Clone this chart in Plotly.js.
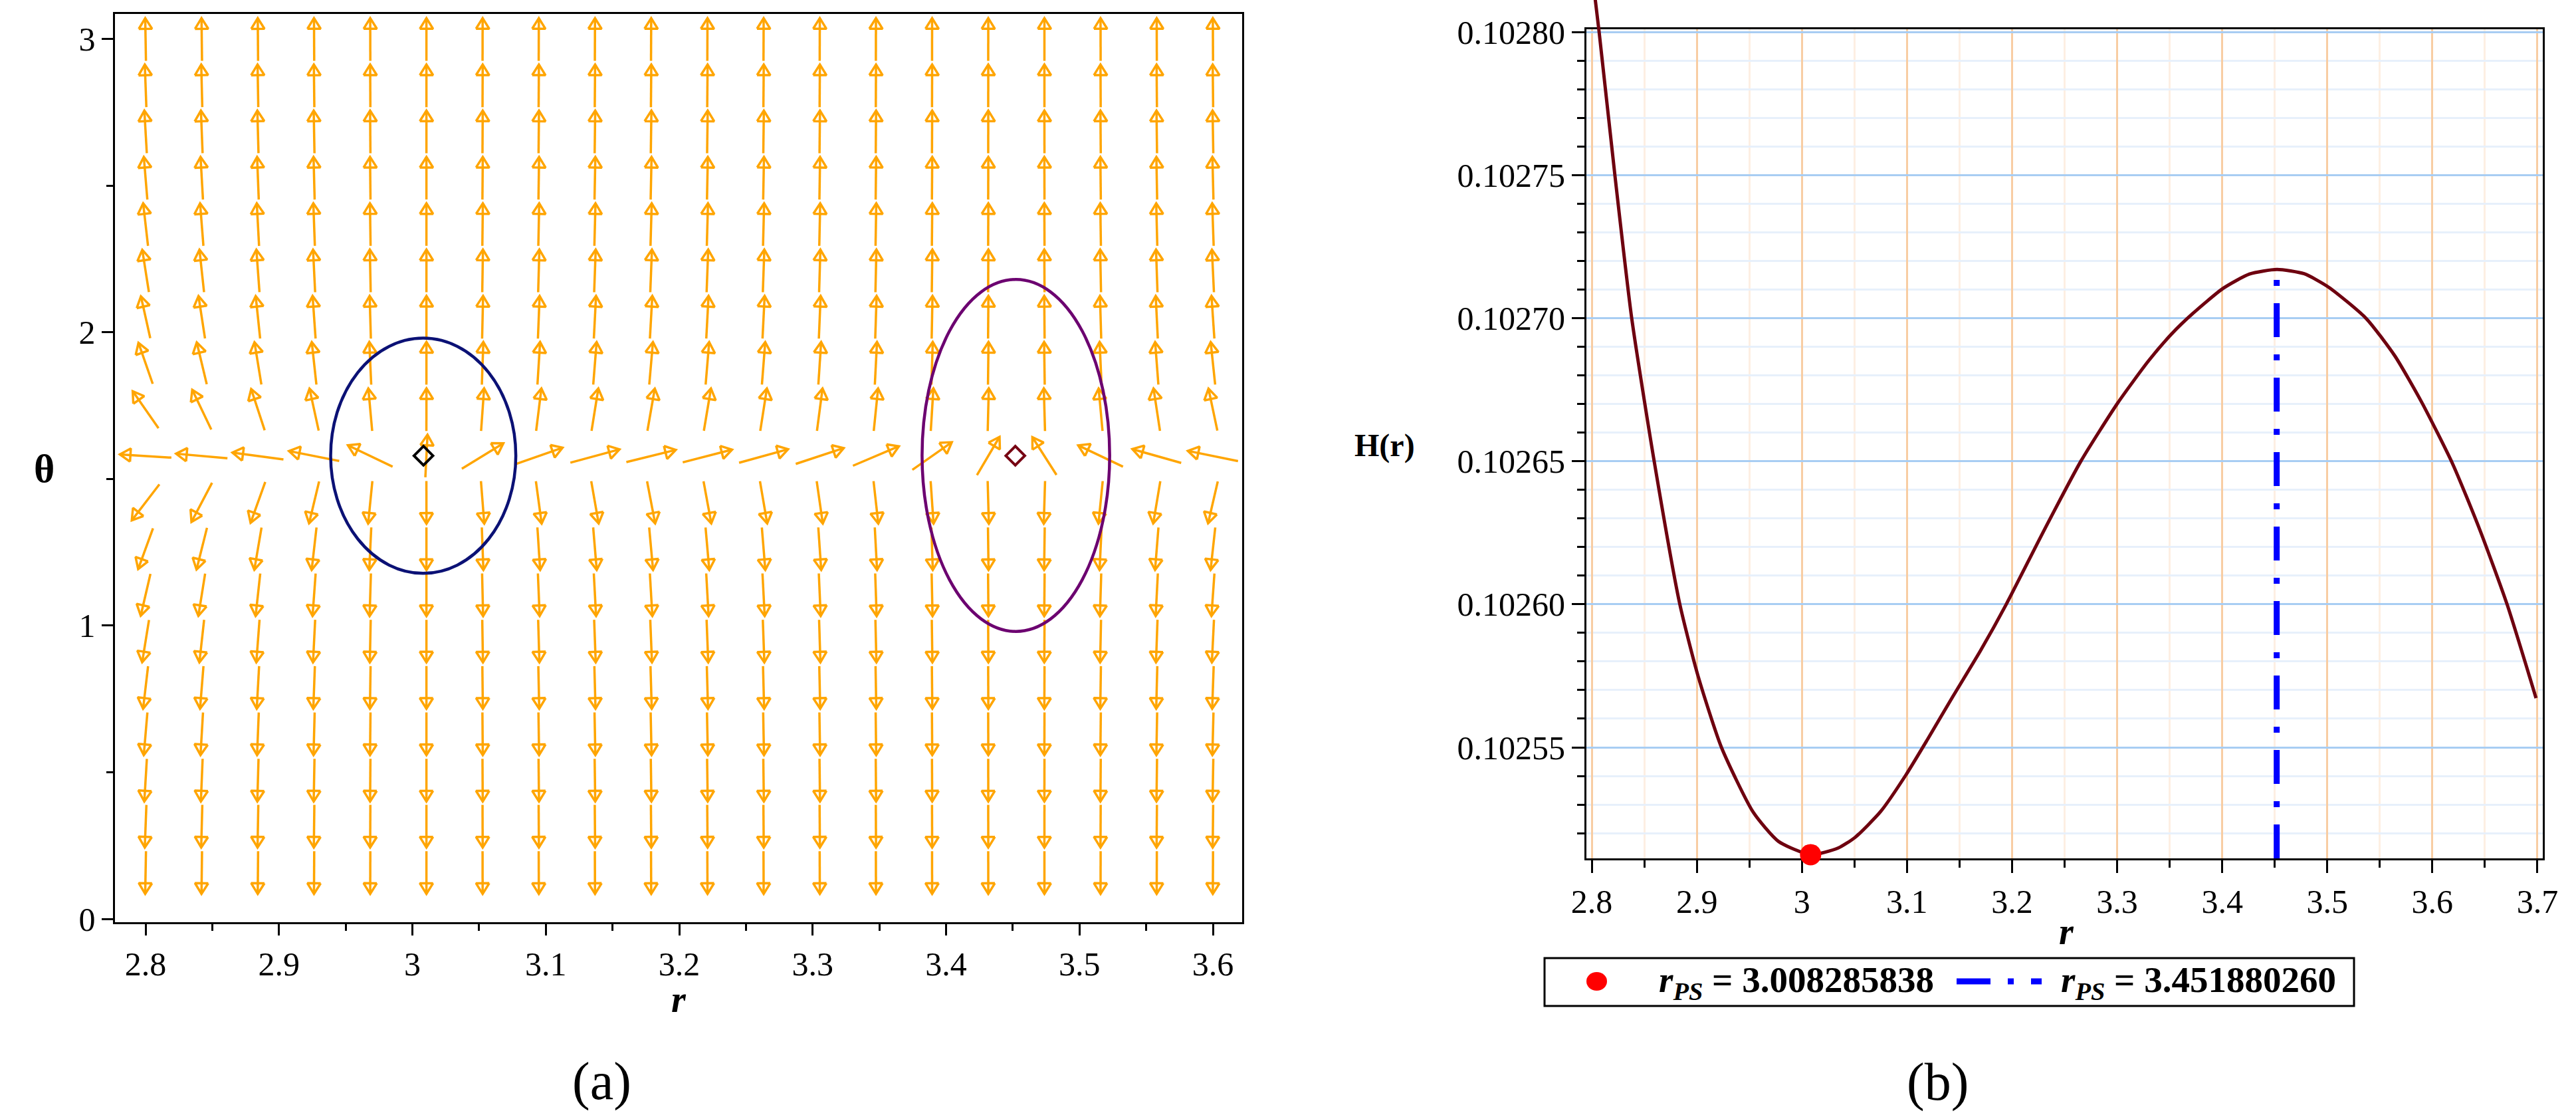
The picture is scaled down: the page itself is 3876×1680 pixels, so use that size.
<!DOCTYPE html>
<html>
<head>
<meta charset="utf-8">
<script src="https://cdn.plot.ly/plotly-3.0.1.min.js"></script>
<style>html,body{margin:0;padding:0;background:#ffffff;}</style>
</head>
<body>
<div id="chart" style="width:3876px;height:1680px;"></div>
<script>
// ================= DATA =================
// Panel (a): normalized vector field on an r-theta grid
const rCols = [2.8000, 2.8421, 2.8842, 2.9263, 2.9684, 3.0105, 3.0526, 3.0947, 3.1368, 3.1789,
               3.2211, 3.2632, 3.3053, 3.3474, 3.3895, 3.4316, 3.4737, 3.5158, 3.5579, 3.6000];
// radial component of the field read per column
const radialComp = [-0.096, -0.066, -0.045, -0.030, -0.0124, 0.0003, 0.0097, 0.017, 0.022, 0.024,
                    0.023, 0.0215, 0.018, 0.014, 0.0085, 0.0035, -0.0038, -0.0125, -0.021, -0.029];
const thetaRows = [0.158, 0.316, 0.473, 0.631, 0.789, 0.947, 1.105, 1.262, 1.420, 1.578,
                   1.736, 1.894, 2.051, 2.209, 2.367, 2.525, 2.683, 2.840, 2.998];
// polar component of the field read per row
const polarComp = [-6.28, -3.06, -1.95, -1.37, -0.995, -0.721, -0.501, -0.320, -0.152, 0.0072,
                   0.1665, 0.335, 0.522, 0.743, 1.022, 1.41, 2.04, 3.21, 6.92];

// zero points (photon spheres) and the contours around them
const zeroR = [3.008285838, 3.451880260];
const zeroTheta = [1.579, 1.579];
const zeroColors = ['#000000', '#760012'];
const contourR = [3.0081, 3.4523];
const contourSemiR = [0.0694, 0.0703];
const contourTheta = [1.579, 1.580];
const contourSemiTheta = [0.401, 0.600];
const contourColors = ['#0b1175', '#6c0070'];

// Panel (b): H(r)
const hR = [2.8000, 2.8070, 2.8220, 2.8380, 2.8594, 2.8838, 2.9011, 2.9234, 2.9537, 2.9778,
            3.0083, 3.0344, 3.0505, 3.0750, 3.0989, 3.1196, 3.1434, 3.1700, 3.1945, 3.2300,
            3.2655, 3.3005, 3.3300, 3.3517, 3.3717, 3.4009, 3.4260, 3.4521, 3.4780, 3.5013,
            3.5367, 3.5643, 3.5900, 3.6194, 3.6450, 3.6711, 3.6987];
const hVal = [0.1028215, 0.1028000, 0.1027500, 0.1027000, 0.1026500, 0.1026000, 0.1025750, 0.1025500, 0.1025273, 0.1025171,
              0.1025125, 0.1025148, 0.1025185, 0.1025276, 0.1025403, 0.1025528, 0.1025676, 0.1025838, 0.1026000, 0.1026255,
              0.1026500, 0.1026703, 0.1026851, 0.1026944, 0.1027015, 0.1027104, 0.1027154, 0.1027170, 0.1027155, 0.1027108,
              0.1027000, 0.1026868, 0.1026705, 0.1026490, 0.1026262, 0.1026000, 0.1025672];
const minPointR = [3.008285838];
const minPointH = [0.1025125];
const maxLineR = [3.451880260, 3.451880260];
const maxLineH = [0.1025112, 0.1027153];
const legendLabels = ['<b><i>r</i><sub><i>PS</i></sub> = 3.008285838</b>',
                      '<b><i>r</i><sub><i>PS</i></sub> = 3.451880260</b>'];

// ================= LAYOUT =================
const W = 3876, H = 1680;
const FONT = 'Liberation Serif';
const tickFont = () => ({family: FONT, size: 50, color: '#000000'});
const px2x = p => p / W;           // paper helpers for the hand-built legend / labels
const px2y = p => 1 - p / H;
const label = (text, cx, cy, size, xanchor) => ({
  text: text, xref: 'paper', yref: 'paper', x: px2x(cx), y: px2y(cy), showarrow: false,
  xanchor: xanchor || 'center', yanchor: 'middle',
  font: {family: FONT, size: size, color: '#000000'}
});

// right panel: visible frame area and an extended (invisible) area above it so that the
// steep start of H(r) runs over the top edge of the frame as in the original
const y2Domain = [0.23155, 0.97396];
const y2Range = [0.1025112, 0.102801];
const y3Top = y2Range[0] + (y2Range[1] - y2Range[0]) * (1 - y2Domain[0]) / (y2Domain[1] - y2Domain[0]);

const layout = {
  width: W, height: H,
  margin: {l: 0, r: 0, t: 0, b: 0},
  paper_bgcolor: '#ffffff',
  plot_bgcolor: 'rgba(0,0,0,0)',
  font: {family: FONT, color: '#000000'},
  showlegend: false,
  xaxis: {
    domain: [0.04476, 0.48220], range: [2.7773, 3.6219], anchor: 'y',
    tick0: 2.8, dtick: 0.1, ticks: 'outside', ticklen: 17, tickwidth: 3, tickcolor: '#000',
    showline: true, linewidth: 3, linecolor: '#000', mirror: true,
    showgrid: false, zeroline: false, tickfont: tickFont(),
    minor: {tick0: 2.8, dtick: 0.05, ticks: 'outside', ticklen: 10, tickwidth: 3, tickcolor: '#000', showgrid: false}
  },
  yaxis: {
    domain: [0.1744, 0.9875], range: [-0.0113, 3.085], anchor: 'x',
    tick0: 0, dtick: 1, ticks: 'outside', ticklen: 17, tickwidth: 3, tickcolor: '#000',
    showline: true, linewidth: 3, linecolor: '#000', mirror: true,
    showgrid: false, zeroline: false, tickfont: tickFont(),
    minor: {tick0: 0, dtick: 0.5, ticks: 'outside', ticklen: 10, tickwidth: 3, tickcolor: '#000', showgrid: false}
  },
  xaxis2: {
    domain: [0.61584, 0.98710], range: [2.7949, 3.7051], anchor: 'y2',
    tick0: 2.8, dtick: 0.1, ticks: 'outside', ticklen: 19, tickwidth: 3, tickcolor: '#000',
    showline: true, linewidth: 3, linecolor: '#000', mirror: true,
    showgrid: true, gridcolor: '#f8cda3', gridwidth: 3, zeroline: false, tickfont: tickFont(),
    minor: {tick0: 2.8, dtick: 0.05, ticks: 'outside', ticklen: 11, tickwidth: 3, tickcolor: '#000',
            showgrid: true, gridcolor: '#fdefe3', gridwidth: 3}
  },
  yaxis2: {
    domain: y2Domain, range: y2Range, anchor: 'x2',
    tick0: 0.10255, dtick: 0.00005, tickformat: '.5f', ticks: 'outside', ticklen: 19, tickwidth: 3, tickcolor: '#000',
    showline: true, linewidth: 3, linecolor: '#000', mirror: true,
    showgrid: true, gridcolor: '#a8cdf3', gridwidth: 3, zeroline: false, tickfont: tickFont(),
    minor: {tick0: 0.10255, dtick: 0.00001, ticks: 'outside', ticklen: 11, tickwidth: 3, tickcolor: '#000',
            showgrid: true, gridcolor: '#e7f0fb', gridwidth: 3}
  },
  xaxis3: {domain: [0.61584, 0.98710], range: [2.7949, 3.7051], anchor: 'y3', visible: false, fixedrange: true},
  yaxis3: {domain: [y2Domain[0], 1], range: [y2Range[0], y3Top], anchor: 'x3', visible: false, fixedrange: true},
  shapes: [],
  annotations: [
    label('<b>θ</b>', 66, 705, 60),
    label('<b><i>r</i></b>', 1021, 1503, 56),
    label('<b>H(r)</b>', 2083, 670, 48),
    label('<b><i>r</i></b>', 3109, 1401, 56),
    label('(a)', 905, 1626, 80),
    label('(b)', 2915, 1627, 80),
    label(legendLabels[0], 2494, 1477, 55, 'left'),
    label(legendLabels[1], 3099, 1477, 55, 'left')
  ]
};

// contours as ellipse shapes in data coordinates
for (let k = 0; k < contourR.length; k++) {
  layout.shapes.push({
    type: 'circle', xref: 'x', yref: 'y', layer: 'above',
    x0: contourR[k] - contourSemiR[k], x1: contourR[k] + contourSemiR[k],
    y0: contourTheta[k] - contourSemiTheta[k], y1: contourTheta[k] + contourSemiTheta[k],
    line: {color: contourColors[k], width: 4.5}
  });
}
// legend box and its symbols
layout.shapes.push(
  {type: 'rect', xref: 'paper', yref: 'paper', x0: px2x(2324), x1: px2x(3542), y0: px2y(1513), y1: px2y(1441),
   line: {color: '#000000', width: 3}, fillcolor: '#ffffff', layer: 'above'},
  {type: 'circle', xref: 'paper', yref: 'paper', x0: px2x(2387), x1: px2x(2418), y0: px2y(1490), y1: px2y(1462),
   line: {color: '#ff0000', width: 0}, fillcolor: '#ff0000', layer: 'above'},
  {type: 'line', xref: 'paper', yref: 'paper', x0: px2x(2944), x1: px2x(3072), y0: px2y(1476), y1: px2y(1476),
   line: {color: '#0000ff', width: 9, dash: '51px,26px,9px,26px'}, layer: 'above'}
);

// ================= ARROWS (panel a) =================
const xa = layout.xaxis, ya = layout.yaxis;
const pxPerR = (xa.domain[1] - xa.domain[0]) * W / (xa.range[1] - xa.range[0]);
const pxPerT = (ya.domain[1] - ya.domain[0]) * H / (ya.range[1] - ya.range[0]);
const arrowPxR = (rCols[1] - rCols[0]) * pxPerR * 0.92;
const arrowPxT = (thetaRows[1] - thetaRows[0]) * pxPerT * 0.92;
const HEAD_LEN = 16, HEAD_HALF = 10;
const ax = [], ay = [];
for (let j = 0; j < thetaRows.length; j++) {
  for (let i = 0; i < rCols.length; i++) {
    const u = radialComp[i], v = polarComp[j];
    const n = Math.hypot(u, v);
    const dxp = arrowPxR * u / n, dyp = arrowPxT * v / n;
    const len = Math.hypot(dxp, dyp);
    const ux = dxp / len, uy = dyp / len;
    const toR = p => rCols[i] + p / pxPerR;
    const toT = p => thetaRows[j] + p / pxPerT;
    const tailX = -dxp / 2, tailY = -dyp / 2, tipX = dxp / 2, tipY = dyp / 2;
    const bX = tipX - HEAD_LEN * ux, bY = tipY - HEAD_LEN * uy;
    const lX = bX - HEAD_HALF * uy, lY = bY + HEAD_HALF * ux;
    const rX = bX + HEAD_HALF * uy, rY = bY - HEAD_HALF * ux;
    ax.push(toR(tailX), toR(tipX), null, toR(lX), toR(tipX), toR(rX), toR(lX), null);
    ay.push(toT(tailY), toT(tipY), null, toT(lY), toT(tipY), toT(rY), toT(lY), null);
  }
}

const traces = [
  {x: ax, y: ay, xaxis: 'x', yaxis: 'y', type: 'scatter', mode: 'lines',
   line: {color: '#ffa500', width: 3.5}, showlegend: false, hoverinfo: 'skip'},
  {x: zeroR, y: zeroTheta, xaxis: 'x', yaxis: 'y', type: 'scatter', mode: 'markers',
   marker: {symbol: 'diamond-open', size: 22, color: zeroColors, line: {color: zeroColors, width: 4}},
   showlegend: false},
  {x: maxLineR, y: maxLineH, xaxis: 'x2', yaxis: 'y2', type: 'scatter', mode: 'lines',
   name: legendLabels[1], line: {color: '#0000ff', width: 9, dash: '51px,26px,9px,26px'}},
  {x: hR, y: hVal, xaxis: 'x3', yaxis: 'y3', type: 'scatter', mode: 'lines', name: 'H(r)',
   line: {color: '#6e000f', width: 5, shape: 'spline', smoothing: 0.6}, showlegend: false},
  {x: minPointR, y: minPointH, xaxis: 'x3', yaxis: 'y3', type: 'scatter', mode: 'markers',
   name: legendLabels[0], marker: {symbol: 'circle', size: 32, color: '#ff0000'}, cliponaxis: false}
];

Plotly.newPlot('chart', traces, layout, {displayModeBar: false, responsive: false});
</script>
</body>
</html>
